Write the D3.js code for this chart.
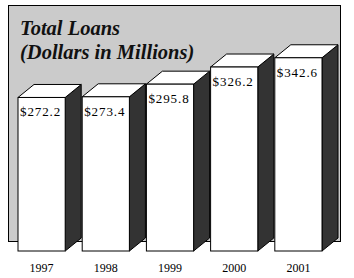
<!DOCTYPE html>
<html>
<head>
<meta charset="utf-8">
<script src="https://cdn.jsdelivr.net/npm/d3@7"></script>
<style>
  body { margin: 0; background: #fff; }
  svg { display: block; }
</style>
</head>
<body>
<div id="chart"></div>
<script>
// data
const years = ['1997', '1998', '1999', '2000', '2001']
const loans = [272.2, 273.4, 295.8, 326.2, 342.6]
const valueLabels = ['$272.2', '$273.4', '$295.8', '$326.2', '$342.6']
const titleLines = ['Total Loans', '(Dollars in Millions)']

const width = 354
const height = 278
const depth = { dx: 16, dy: 13 }

const svg = d3.select('#chart')
    .append('svg')
    .attr('width', width)
    .attr('height', height)

// gray backdrop panel
svg.append('rect')
    .attr('x', 8.5)
    .attr('y', 5.5)
    .attr('width', 332)
    .attr('height', 236)
    .attr('fill', '#cbcbcb')
    .attr('stroke', '#000')
    .attr('stroke-width', 1)

// title
svg.append('g')
    .selectAll('text')
    .data(titleLines)
    .join('text')
    .attr('x', 20)
    .attr('y', (d, i) => 35 + i * 24)
    .attr('font-family', '"Liberation Serif", "DejaVu Serif", serif')
    .attr('font-style', 'italic')
    .attr('font-weight', 'bold')
    .attr('font-size', 20.5)
    .attr('fill', '#111')
    .text(d => d)

// scales
const xScale = d3.scaleBand()
    .domain(years)
    .range([18, 322])
    .paddingInner(0.265)
    .paddingOuter(0)

const yScale = d3.scaleLinear()
    .domain([0, 350])
    .range([251, 251 - 350 * 0.564])

const bars = svg.append('g')
    .selectAll('g')
    .data(years.map((y, i) => ({ year: y, value: loans[i], label: valueLabels[i] })))
    .join('g')

const bw = xScale.bandwidth()
const base = yScale(0)

// dark side face
bars.append('path')
    .attr('d', d => {
        const x0 = xScale(d.year) + bw
        const top = yScale(d.value)
        return `M${x0},${top} L${x0 + depth.dx},${top - depth.dy} L${x0 + depth.dx},${base - depth.dy} L${x0},${base} Z`
    })
    .attr('fill', '#333')
    .attr('stroke', '#000')
    .attr('stroke-width', 1)

// top face
bars.append('path')
    .attr('d', d => {
        const x0 = xScale(d.year)
        const top = yScale(d.value)
        return `M${x0},${top} L${x0 + depth.dx},${top - depth.dy} L${x0 + bw + depth.dx},${top - depth.dy} L${x0 + bw},${top} Z`
    })
    .attr('fill', '#fff')
    .attr('stroke', '#000')
    .attr('stroke-width', 1)

// front face
bars.append('rect')
    .attr('x', d => xScale(d.year))
    .attr('y', d => yScale(d.value))
    .attr('width', bw)
    .attr('height', d => base - yScale(d.value))
    .attr('fill', '#fff')
    .attr('stroke', '#000')
    .attr('stroke-width', 1)

// value labels inside the bars
bars.append('text')
    .attr('x', d => xScale(d.year) + 2)
    .attr('y', d => yScale(d.value) + 19)
    .attr('font-family', '"Liberation Serif", "DejaVu Serif", serif')
    .attr('font-size', 13)
    .attr('letter-spacing', 0.9)
    .attr('fill', '#000')
    .text(d => d.label)

// year axis
const xAxis = d3.axisBottom(xScale)
    .tickSize(0)
    .tickPadding(0)

svg.append('g')
    .attr('transform', `translate(0, ${base + 12})`)
    .call(xAxis)
    .call(g => g.select('.domain').remove())
    .call(g => g.selectAll('text')
        .attr('font-family', '"Liberation Serif", "DejaVu Serif", serif')
        .attr('font-size', 12)
        .attr('fill', '#000'))
</script>
</body>
</html>
